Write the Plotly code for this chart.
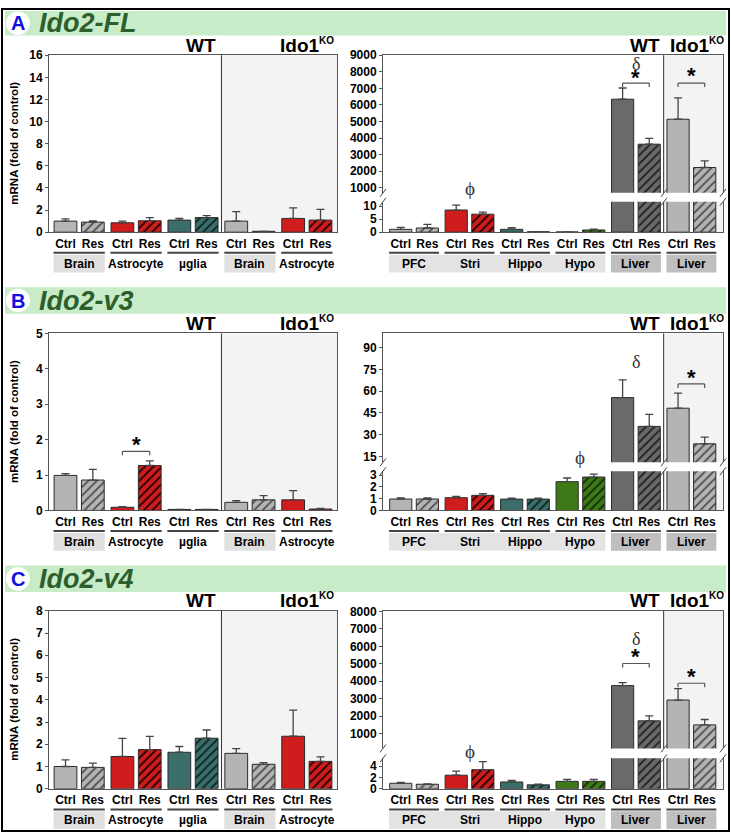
import plotly.graph_objects as go

W, H = 731, 840

left_groups = ["Brain", "Astrocyte", "µglia", "Brain", "Astrocyte"]
right_groups = ["PFC", "Stri", "Hippo", "Hypo", "Liver", "Liver"]
bar_labels = ["Ctrl", "Res"]

# Ido2-FL
fl_left_ctrl = [1.0, 0.85, 1.09, 1.0, 1.24]
fl_left_ctrl_err = [0.2, 0.15, 0.15, 0.85, 0.96]
fl_left_res = [0.91, 1.03, 1.32, 0.08, 1.09]
fl_left_res_err = [0.12, 0.29, 0.18, 0.0, 0.97]
fl_right_ctrl = [1.1, 8.5, 1.1, 0.1, 6346, 5139]
fl_right_ctrl_err = [0.75, 1.9, 0.6, 0.0, 674, 1287]
fl_right_res = [1.6, 6.9, 0.15, 0.85, 3634, 2228]
fl_right_res_err = [1.4, 0.8, 0.0, 0.35, 356, 396]

# Ido2-v3
v3_left_ctrl = [0.99, 0.09, 0.03, 0.23, 0.3]
v3_left_ctrl_err = [0.05, 0.02, 0.0, 0.05, 0.26]
v3_left_res = [0.86, 1.27, 0.03, 0.3, 0.04]
v3_left_res_err = [0.3, 0.13, 0.0, 0.12, 0.02]
v3_right_ctrl = [0.97, 1.08, 0.96, 2.44, 55.6, 48.3]
v3_right_ctrl_err = [0.1, 0.12, 0.08, 0.31, 12.2, 10.4]
v3_right_res = [0.97, 1.28, 0.96, 2.83, 35.8, 23.8]
v3_right_res_err = [0.1, 0.14, 0.08, 0.25, 8.2, 4.6]

# Ido2-v4
v4_left_ctrl = [1.0, 1.45, 1.64, 1.59, 2.36]
v4_left_ctrl_err = [0.3, 0.81, 0.26, 0.21, 1.17]
v4_left_res = [0.96, 1.76, 2.27, 1.1, 1.23]
v4_left_res_err = [0.19, 0.59, 0.37, 0.07, 0.2]
v4_right_ctrl = [0.97, 2.4, 1.2, 1.31, 3750, 2923]
v4_right_ctrl_err = [0.17, 0.74, 0.29, 0.35, 173, 654]
v4_right_res = [0.8, 3.37, 0.69, 1.31, 1731, 1500]
v4_right_res_err = [0.05, 1.43, 0.11, 0.35, 288, 308]

left_colors = ["#b4b4b4", "#cf1c1c", "#3b6d6a", "#b4b4b4", "#cf1c1c"]
left_hatch = ["#4d4d4d", "#1a0000", "#0c2220", "#4d4d4d", "#1a0000"]
right_colors = ["#b4b4b4", "#cf1c1c", "#3b6d6a", "#3d7a17", "#6a6a6a", "#b4b4b4"]
right_hatch = ["#4d4d4d", "#1a0000", "#0c2220", "#112a05", "#1e1e1e", "#4d4d4d"]


def px_x(p):
    return p / W


def px_y(p):
    return 1 - p / H


BAR_W = 0.40
OFF = 0.24
LEFT_X = (49, 337)
RIGHT_X = (383, 723)
LEFT_RANGE = [-0.53, 4.53]
RIGHT_RANGE = [-0.56, 5.57]
TICK_FONT = dict(family="Arial", size=12, color="black", weight="bold")
HEAD_FONT = dict(family="Arial", size=19, color="black", weight="bold")
KO_LABEL = "Ido1<sup><span style='font-size:10px'>KO</span></sup>"

fig = go.Figure()
shapes = []
annotations = []
axes = {}


def ax_key(letter, i):
    return f"{letter}axis" if i == 1 else f"{letter}axis{i}"


def ax_ref(letter, i):
    return letter if i == 1 else f"{letter}{i}"


def note(**kw):
    d = dict(showarrow=False, xanchor="center", yanchor="middle")
    d.update(kw)
    annotations.append(d)


def add_bars(i, ctrl, ctrl_err, res, res_err, colors, hatch):
    n = len(ctrl)
    xr, yr = ax_ref("x", i), ax_ref("y", i)
    err = dict(type="data", symmetric=False, color="#444444", thickness=1.3, width=4)
    edge = dict(color="#2b2b2b", width=1)
    fig.add_trace(go.Bar(
        x=list(range(n)), y=ctrl, offset=-OFF - BAR_W / 2, width=BAR_W,
        marker=dict(color=colors, line=edge),
        error_y=dict(array=ctrl_err, arrayminus=[0] * n, **err),
        xaxis=xr, yaxis=yr, showlegend=False, hoverinfo="skip",
    ))
    # one trace per hatched bar so each gets its own hatch colour
    for g in range(n):
        fig.add_trace(go.Bar(
            x=[g], y=[res[g]], offset=OFF - BAR_W / 2, width=BAR_W,
            marker=dict(color=colors[g], line=edge,
                        pattern=dict(shape="/", fillmode="overlay", fgcolor=hatch[g],
                                     fgopacity=1, size=6, solidity=0.3)),
            error_y=dict(array=[res_err[g]], arrayminus=[0], **err),
            xaxis=xr, yaxis=yr, showlegend=False, hoverinfo="skip",
        ))


def tick_axis(n):
    vals, text = [], []
    for g in range(n):
        vals += [g - OFF, g + OFF]
        text += bar_labels
    return vals, text


def shade_and_divider(i, divider, x_end):
    shapes.append(dict(type="rect", xref=ax_ref("x", i), yref=ax_ref("y", i) + " domain",
                       x0=divider, x1=x_end, y0=0, y1=1, fillcolor="#f3f3f3",
                       line_width=0, layer="below"))
    shapes.append(dict(type="line", xref=ax_ref("x", i), yref=ax_ref("y", i) + " domain",
                       x0=divider, x1=divider, y0=0, y1=1, line=dict(color="#333333", width=1)))


def group_labels(i, groups, bottom, boxes):
    xr = ax_ref("x", i)
    for x0, x1, color in boxes:
        shapes.append(dict(type="rect", xref=xr, yref="paper", x0=x0, x1=x1,
                           y0=px_y(bottom + 41), y1=px_y(bottom + 23),
                           fillcolor=color, line_width=0, layer="below"))
    for g, name in enumerate(groups):
        shapes.append(dict(type="line", xref=xr, yref="paper", x0=g - 0.45, x1=g + 0.45,
                           y0=px_y(bottom + 21), y1=px_y(bottom + 21),
                           line=dict(color="#444444", width=2)))
        note(xref=xr, yref="paper", x=g, y=px_y(bottom + 32), text=name, font=TICK_FONT)


def x_axis(dom, rng, anchor, **kw):
    d = dict(domain=[px_x(dom[0]), px_x(dom[1])], range=rng, anchor=anchor,
             showgrid=False, zeroline=False, showline=True, linecolor="#555555",
             linewidth=1, tickfont=TICK_FONT, ticks="")
    d.update(kw)
    return d


def y_axis(top, bottom, rng, tickvals, anchor, **kw):
    d = dict(domain=[px_y(bottom), px_y(top)], range=rng, anchor=anchor, tickvals=tickvals,
             showgrid=False, zeroline=False, showline=True, mirror=True,
             linecolor="#555555", linewidth=1, tickfont=TICK_FONT,
             ticks="outside", ticklen=3, tickcolor="#555555")
    d.update(kw)
    return d


panels = [
    dict(letter="A", title="Ido2-FL", band=(4, 29), top=49, bottom=229, split=(189, 198),
         left_range=[0, 16], left_ticks=list(range(0, 17, 2)),
         upper_range=[700, 9000], upper_ticks=list(range(1000, 9001, 1000)),
         lower_range=[0, 11.7], lower_ticks=[0, 5, 10],
         left=(fl_left_ctrl, fl_left_ctrl_err, fl_left_res, fl_left_res_err),
         right=(fl_right_ctrl, fl_right_ctrl_err, fl_right_res, fl_right_res_err),
         marks=[("upper", 4, 8445, "δ"), ("upper", 4, 7650, "*"), ("upper", 5, 7752, "*")],
         phi=(1, 185),
         brackets=[("upper", 4, 7317), ("upper", 5, 7317)]),
    dict(letter="B", title="Ido2-v3", band=(285, 312), top=332, bottom=512, split=(463, 472),
         left_range=[0, 5], left_ticks=[0, 1, 2, 3, 4, 5],
         upper_range=[11.1, 99.7], upper_ticks=[15, 30, 45, 60, 75, 90],
         lower_range=[0, 3.33], lower_ticks=[0, 1, 2, 3],
         left=(v3_left_ctrl, v3_left_ctrl_err, v3_left_res, v3_left_res_err),
         right=(v3_right_ctrl, v3_right_ctrl_err, v3_right_res, v3_right_res_err),
         marks=[("left", 1, 1.85, "*"), ("upper", 4, 80.3, "δ"), ("upper", 5, 69.6, "*")],
         phi=(3, 458),
         brackets=[("left", 1, 1.67), ("upper", 5, 65)]),
    dict(letter="C", title="Ido2-v4", band=(568, 595), top=614, bottom=795, split=(754, 764),
         left_range=[0, 8], left_ticks=list(range(0, 9)),
         upper_range=[150, 8040], upper_ticks=list(range(1000, 8001, 1000)),
         lower_range=[0, 5.4], lower_ticks=[0, 2, 4],
         left=(v4_left_ctrl, v4_left_ctrl_err, v4_left_res, v4_left_res_err),
         right=(v4_right_ctrl, v4_right_ctrl_err, v4_right_res, v4_right_res_err),
         marks=[("upper", 4, 6404, "δ"), ("upper", 4, 5442, "*"), ("upper", 5, 4250, "*")],
         phi=(1, 757),
         brackets=[("upper", 4, 5019), ("upper", 5, 3885)]),
]

for p, sp in enumerate(panels):
    il, iu, ilo = 3 * p + 1, 3 * p + 2, 3 * p + 3
    top, bottom = sp["top"], sp["bottom"]
    s_top, s_bot = sp["split"]

    # header band
    b0, b1 = sp["band"]
    shapes.append(dict(type="rect", xref="paper", yref="paper", x0=px_x(5), x1=px_x(726),
                       y0=px_y(b1), y1=px_y(b0), fillcolor="#c8ebc8", line_width=0, layer="below"))
    cy = (b0 + b1) / 2
    shapes.append(dict(type="circle", xref="paper", yref="paper", x0=px_x(6), x1=px_x(30),
                       y0=px_y(cy + 12), y1=px_y(cy - 12), fillcolor="white", line_width=0))
    note(xref="paper", yref="paper", x=px_x(18), y=px_y(cy), text=sp["letter"],
         font=dict(family="Arial", size=20, color="#1010e0", weight="bold"))
    note(xref="paper", yref="paper", x=px_x(37), y=px_y(cy), text=sp["title"], xanchor="left",
         font=dict(family="Arial", size=27, color="#2c5f2c", weight="bold", style="italic"))

    # left plot
    add_bars(il, *sp["left"], left_colors, left_hatch)
    tv, tt = tick_axis(len(left_groups))
    axes[ax_key("x", il)] = x_axis(LEFT_X, LEFT_RANGE, ax_ref("y", il), mirror=True,
                                   tickvals=tv, ticktext=tt, ticklabelstandoff=0)
    axes[ax_key("y", il)] = y_axis(top, bottom, sp["left_range"], sp["left_ticks"], ax_ref("x", il))
    shade_and_divider(il, 2.5, LEFT_RANGE[1])
    group_labels(il, left_groups, bottom, [(g - 0.45, g + 0.45, "#e0e0e0") for g in (0, 3)])
    note(xref="paper", yref="paper", x=px_x(14), y=px_y((top + bottom) / 2),
         text="mRNA (fold of control)", textangle=-90,
         font=dict(family="Arial", size=11.5, color="black", weight="bold"))
    note(xref="paper", yref="paper", x=px_x(218), y=px_y(top - 10), text="WT",
         xanchor="right", font=HEAD_FONT)
    note(xref="paper", yref="paper", x=px_x(336), y=px_y(top - 10), text=KO_LABEL,
         xanchor="right", font=HEAD_FONT)

    # right plot, broken axis: upper + lower
    for i in (iu, ilo):
        add_bars(i, *sp["right"], right_colors, right_hatch)
        shade_and_divider(i, 4.5, RIGHT_RANGE[1])
    axes[ax_key("x", iu)] = x_axis(RIGHT_X, RIGHT_RANGE, ax_ref("y", iu), side="top",
                                   showticklabels=False)
    axes[ax_key("y", iu)] = y_axis(top, s_top, sp["upper_range"], sp["upper_ticks"], ax_ref("x", iu))
    tv, tt = tick_axis(len(right_groups))
    axes[ax_key("x", ilo)] = x_axis(RIGHT_X, RIGHT_RANGE, ax_ref("y", ilo),
                                    tickvals=tv, ticktext=tt, ticklabelstandoff=0)
    axes[ax_key("y", ilo)] = y_axis(s_bot, bottom, sp["lower_range"], sp["lower_ticks"], ax_ref("x", ilo))
    group_labels(ilo, right_groups, bottom,
                 [(-0.45, 3.45, "#e3e3e3"), (3.55, 4.45, "#bfbfbf"), (4.55, 5.45, "#bfbfbf")])
    note(xref="paper", yref="paper", x=px_x(662), y=px_y(top - 10), text="WT",
         xanchor="right", font=HEAD_FONT)
    note(xref="paper", yref="paper", x=px_x(726), y=px_y(top - 10), text=KO_LABEL,
         xanchor="right", font=HEAD_FONT)

    # break marks
    for xb in (383, 664, 723):
        for yb in (s_top, s_bot):
            shapes.append(dict(type="line", xref="paper", yref="paper",
                               x0=px_x(xb - 3), x1=px_x(xb + 3), y0=px_y(yb + 4), y1=px_y(yb - 4),
                               line=dict(color="#444444", width=1)))

    # significance marks
    idx = {"left": il, "upper": iu, "lower": ilo}
    for where, gx, gy, sym in sp["marks"]:
        i = idx[where]
        if sym == "*":
            font = dict(family="Arial", size=22, color="black", weight="bold")
        else:
            font = dict(family="Liberation Serif", size=18, color="#333333")
        note(xref=ax_ref("x", i), yref=ax_ref("y", i), x=gx, y=gy, text=sym, font=font)
    gx, gy = sp["phi"]
    note(xref=ax_ref("x", ilo), yref="paper", x=gx, y=px_y(gy), text="ϕ",
         font=dict(family="Liberation Serif", size=19, color="#333333"))
    for where, gx, gy in sp["brackets"]:
        i = idx[where]
        xr, yr = ax_ref("x", i), ax_ref("y", i)
        shapes.append(dict(type="line", xref=xr, yref=yr, x0=gx - OFF, x1=gx + OFF, y0=gy, y1=gy,
                           line=dict(color="#555555", width=1.2)))
        for xe in (gx - OFF, gx + OFF):
            shapes.append(dict(type="line", xref=xr, yref=yr, ysizemode="pixel", yanchor=gy,
                               x0=xe, x1=xe, y0=0, y1=-4, line=dict(color="#555555", width=1.2)))

# outer border
shapes.append(dict(type="rect", xref="paper", yref="paper", x0=px_x(2), x1=px_x(729),
                   y0=px_y(838), y1=px_y(2), line=dict(color="black", width=2)))

fig.update_layout(
    width=W, height=H, margin=dict(l=0, r=0, t=0, b=0),
    paper_bgcolor="white", plot_bgcolor="rgba(0,0,0,0)",
    barmode="overlay", showlegend=False,
    shapes=shapes, annotations=annotations, **axes,
)

fig.write_html("out.html", config={"displayModeBar": False},
               post_script="document.body.style.margin='0';")
